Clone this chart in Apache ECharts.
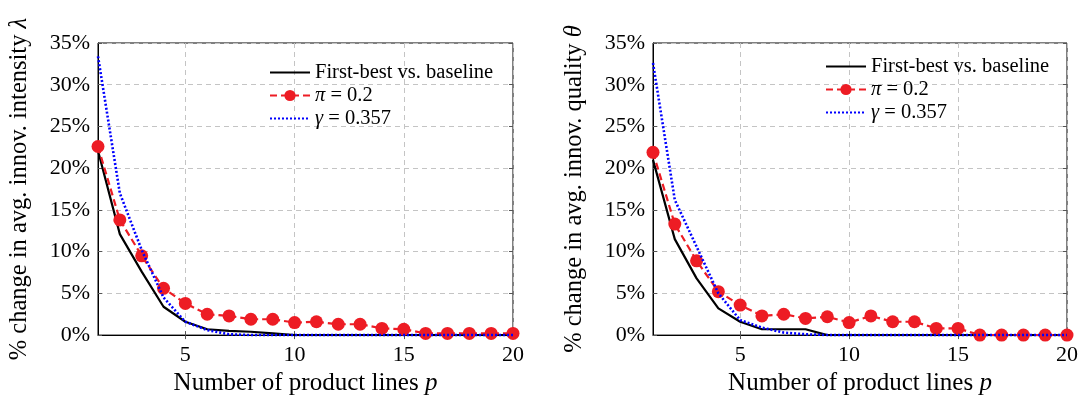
<!DOCTYPE html>
<html>
<head>
<meta charset="utf-8">
<script src="https://cdn.jsdelivr.net/npm/echarts@6/dist/echarts.min.js"></script>
<style>
html,body{margin:0;padding:0;background:#fff;}
#chart{width:1081px;height:401px;}
</style>
</head>
<body>
<div id="chart"></div>
<script>
// ---- data ----
const categories = [1,2,3,4,5,6,7,8,9,10,11,12,13,14,15,16,17,18,19,20];
const xTickValues = [5,10,15,20];
const yTicks = [0,5,10,15,20,25,30,35];

// left panel: innovation intensity lambda (% change)
const lamFirstBest = [22.1,12.1,7.6,3.4,1.6,0.7,0.5,0.4,0.2,0,0,0,0,0,0,0,0,0,0,0];
const lamPi        = [22.6,13.8,9.5,5.6,3.8,2.5,2.3,1.9,1.9,1.5,1.6,1.3,1.3,0.8,0.7,0.2,0.2,0.2,0.2,0.2];
const lamGamma     = [33.4,17.0,10.2,4.5,1.6,0.6,0.1,0,0,0,0,0,0,0,0,0,0,0,0,0];

// right panel: innovation quality theta (% change)
const thFirstBest  = [21.0,11.5,6.8,3.2,1.6,0.7,0.7,0.7,0,0,0,0,0,0,0,0,0,0,0,0];
const thPi         = [21.9,13.3,8.9,5.2,3.6,2.3,2.5,2.0,2.2,1.5,2.3,1.6,1.6,0.8,0.8,0,0,0,0,0];
const thGamma      = [32.6,16.2,10.6,5.0,1.8,0.9,0.3,0.1,0,0,0,0,0,0,0,0,0,0,0,0];

const seriesNames = ['First-best vs. baseline','π = 0.2','γ = 0.357'];
const xTitle = 'Number of product lines {i|p}';
const yTitles = ['% change in avg. innov. intensity {i|λ}', '% change in avg. innov. quality {i|θ}'];

// ---- styling ----
const FONT = 'Liberation Serif';
const RED = '#ed1c24', BLUE = '#0000ff';
const italicRich = (size) => ({ i: { fontStyle: 'italic', fontFamily: FONT, fontSize: size, color: '#000' } });
const showTick = (idx, val) => xTickValues.indexOf(Number(val)) >= 0;

const grids = [
  { left: 98, top: 43, width: 415, height: 294, show: true, borderColor: '#000', borderWidth: 1, backgroundColor: 'transparent' },
  { left: 653, top: 43, width: 415, height: 294, show: true, borderColor: '#000', borderWidth: 1, backgroundColor: 'transparent' }
];

const xAxes = [], yAxes = [];
[0,1].forEach(g => {
  xAxes.push({
    type: 'category', gridIndex: g, data: categories, boundaryGap: false,
    axisLine: { show: true, lineStyle: { color: '#000', width: 1 } },
    axisTick: { show: true, inside: true, length: 4, interval: showTick, lineStyle: { color: '#555' } },
    axisLabel: { show: true, interval: showTick, margin: 9, fontFamily: FONT, fontSize: 22, color: '#000' },
    splitLine: { show: true, interval: showTick, lineStyle: { color: '#c4c4c4', type: [5,4], width: 1 } },
    name: xTitle, nameLocation: 'middle', nameGap: 31,
    nameTextStyle: { fontFamily: FONT, fontSize: 25, color: '#000', rich: italicRich(25) }
  });
  xAxes.push({
    type: 'category', gridIndex: g, data: categories, boundaryGap: false, position: 'top',
    axisLine: { show: false },
    axisTick: { show: true, inside: true, length: 4, interval: showTick, lineStyle: { color: '#555' } },
    axisLabel: { show: false }, splitLine: { show: false }
  });
  yAxes.push({
    type: 'value', gridIndex: g, min: 0, max: 35, interval: 5,
    axisLine: { show: true, lineStyle: { color: '#000', width: 1 } },
    axisTick: { show: true, inside: true, length: 4, lineStyle: { color: '#555' } },
    axisLabel: { margin: 8, fontFamily: FONT, fontSize: 22, color: '#000', formatter: '{value}%' },
    splitLine: { show: true, lineStyle: { color: '#c4c4c4', type: [5,4], width: 1 } },
    name: yTitles[g], nameLocation: 'middle', nameRotate: 90, nameGap: 66,
    nameTextStyle: { fontFamily: FONT, fontSize: 24.5, color: '#000', rich: italicRich(24.5) }
  });
  yAxes.push({
    type: 'value', gridIndex: g, min: 0, max: 35, interval: 5, position: 'right',
    axisLine: { show: false },
    axisTick: { show: true, inside: true, length: 4, lineStyle: { color: '#555' } },
    axisLabel: { show: false }, splitLine: { show: false }
  });
});

function makeSeries(g, base, pi, gamma) {
  const xi = g * 2, yi = g * 2;
  return [
    { name: seriesNames[0], type: 'line', xAxisIndex: xi, yAxisIndex: yi, data: base,
      showSymbol: false, symbol: 'none', lineStyle: { color: '#000', width: 2.2 }, itemStyle: { color: '#000' }, z: 3, animation: false },
    { name: seriesNames[1], type: 'line', xAxisIndex: xi, yAxisIndex: yi, data: pi,
      symbol: 'circle', symbolSize: 13, showAllSymbol: true,
      lineStyle: { color: RED, width: 2.2, type: [7,4] }, itemStyle: { color: RED }, z: 4, animation: false },
    { name: seriesNames[2], type: 'line', xAxisIndex: xi, yAxisIndex: yi, data: gamma,
      showSymbol: false, symbol: 'none', lineStyle: { color: BLUE, width: 2.6, type: [2,2] }, itemStyle: { color: BLUE }, z: 5, animation: false }
  ];
}

const legendData = [
  { name: seriesNames[0], itemStyle: { opacity: 0 } },
  { name: seriesNames[1] },
  { name: seriesNames[2], itemStyle: { opacity: 0 } }
];

const legendCommon = {
  orient: 'vertical', itemWidth: 40, itemHeight: 14, itemGap: 2, itemTextGap: 7,
  selectedMode: false, data: legendData,
  textStyle: { fontFamily: FONT, fontSize: 20.5, color: '#000', rich: italicRich(20.5) },
  formatter: name => name.replace(/^(π|γ)/, '{i|$1}')
};

const option = {
  animation: false,
  backgroundColor: '#fff',
  grid: grids,
  xAxis: xAxes,
  yAxis: yAxes,
  legend: [
    Object.assign({}, legendCommon, { left: 264, top: 57 }),
    Object.assign({}, legendCommon, { left: 820, top: 51 })
  ],
  series: [].concat(makeSeries(0, lamFirstBest, lamPi, lamGamma), makeSeries(1, thFirstBest, thPi, thGamma))
};

const chart = echarts.init(document.getElementById('chart'), null, { renderer: 'canvas' });
chart.setOption(option);
</script>
</body>
</html>
